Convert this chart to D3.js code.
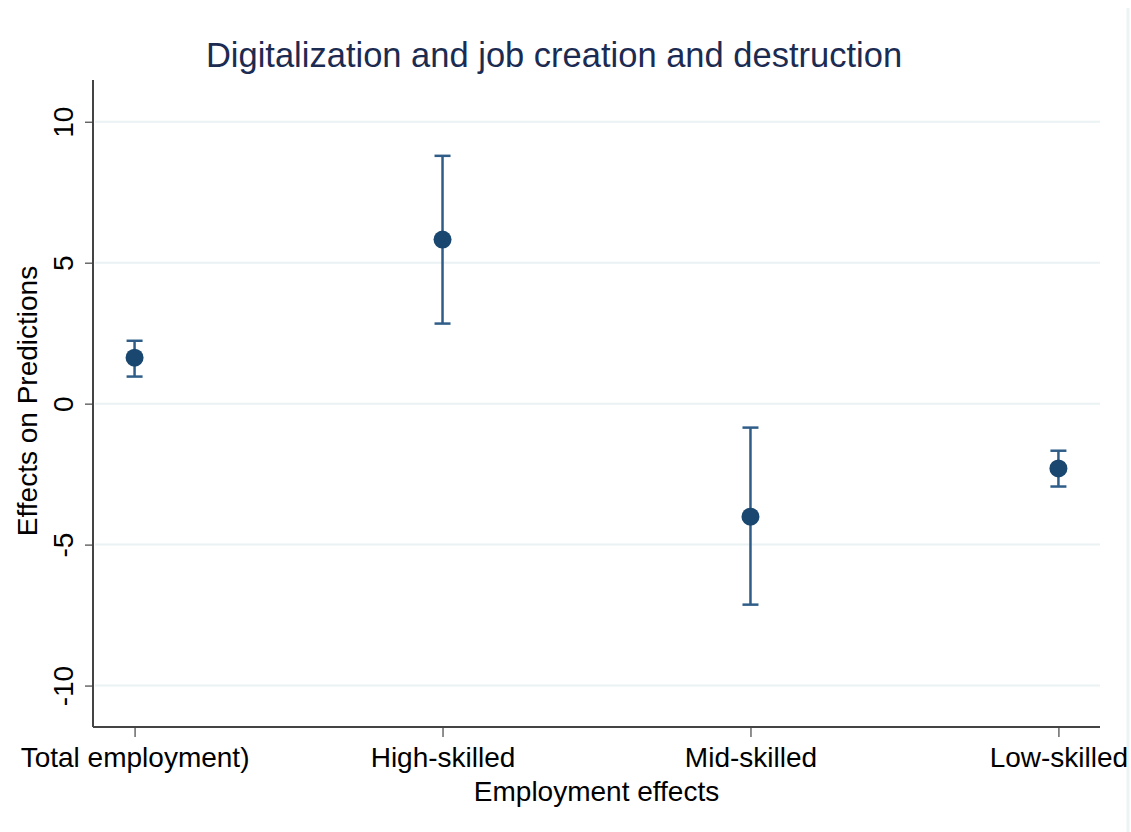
<!DOCTYPE html>
<html>
<head>
<meta charset="utf-8">
<script src="https://d3js.org/d3.v7.min.js"></script>
<style>
  body { margin: 0; background: #fff; }
  svg { display: block; }
  text { font-family: "Liberation Sans", Arial, Helvetica, sans-serif; }
</style>
</head>
<body>
<div id="chart"></div>
<script>
  // Data
  var categories = ["Total employment)", "High-skilled", "Mid-skilled", "Low-skilled"];
  var estimates = [1.63, 5.82, -4.01, -2.30];
  var upper = [2.23, 8.79, -0.85, -1.67];
  var lower = [0.96, 2.84, -7.13, -2.94];
  var yTicks = [-10, -5, 0, 5, 10];

  var W = 1131, H = 832;
  var margin = { top: 80, right: 31, bottom: 105, left: 93 };
  var width = W - margin.left - margin.right;
  var height = H - margin.top - margin.bottom;

  var navy = "#1a476f";

  var svg = d3.select("#chart")
    .append("svg")
    .attr("width", W)
    .attr("height", H);

  // faint border on the right edge of the graph region
  svg.append("line")
    .attr("x1", 1128).attr("x2", 1128)
    .attr("y1", 8).attr("y2", H)
    .attr("stroke", "#edf3f5")
    .attr("stroke-width", 3);

  var g = svg.append("g")
    .attr("transform", "translate(" + margin.left + "," + margin.top + ")");

  // Scales
  var xScale = d3.scalePoint()
    .domain(categories)
    .range([0, width])
    .padding(0.135);

  var yScale = d3.scaleLinear()
    .domain([-11.47, 11.48])
    .range([height, 0]);

  // Gridlines
  g.selectAll(".grid")
    .data(yTicks)
    .enter().append("line")
    .attr("x1", 2).attr("x2", width)
    .attr("y1", function(d) { return yScale(d); })
    .attr("y2", function(d) { return yScale(d); })
    .attr("stroke", "#eaf2f3")
    .attr("stroke-width", 2);

  // Axes
  var yAxis = g.append("g")
    .call(d3.axisLeft(yScale).tickValues(yTicks).tickSize(8).tickPadding(10)
      .tickFormat(function(d) { return String(d); }));
  yAxis.select(".domain").attr("stroke", "#444").attr("stroke-width", 2).attr("d", "M0,0V" + height);
  yAxis.selectAll(".tick line").attr("stroke", "#444").attr("stroke-width", 1.2);
  yAxis.selectAll(".tick text")
    .attr("font-size", "28px")
    .attr("font-family", "Liberation Sans, Arial, sans-serif")
    .attr("fill", "#000")
    .attr("transform", "rotate(-90)")
    .attr("x", 0)
    .attr("y", -20)
    .attr("dy", "0")
    .style("text-anchor", "middle");

  var xAxis = g.append("g")
    .attr("transform", "translate(0," + height + ")")
    .call(d3.axisBottom(xScale).tickSize(10).tickPadding(10));
  xAxis.select(".domain").attr("stroke", "#444").attr("stroke-width", 2).attr("d", "M0,0H" + width);
  xAxis.selectAll(".tick line").attr("stroke", "#444").attr("stroke-width", 1.2);
  xAxis.selectAll(".tick text")
    .attr("font-size", "28px")
    .attr("font-family", "Liberation Sans, Arial, sans-serif")
    .attr("fill", "#000");

  // Error bars
  var capW = 8;
  categories.forEach(function(c, i) {
    var x = xScale(c);
    g.append("line")
      .attr("x1", x).attr("x2", x)
      .attr("y1", yScale(upper[i])).attr("y2", yScale(lower[i]))
      .attr("stroke", "#2f5d88").attr("stroke-width", 2.5);
    [upper[i], lower[i]].forEach(function(v) {
      g.append("line")
        .attr("x1", x - capW).attr("x2", x + capW)
        .attr("y1", yScale(v)).attr("y2", yScale(v))
        .attr("stroke", "#2f5d88").attr("stroke-width", 2.5);
    });
  });

  // Points
  g.selectAll(".pt")
    .data(estimates)
    .enter().append("circle")
    .attr("cx", function(d, i) { return xScale(categories[i]); })
    .attr("cy", function(d) { return yScale(d); })
    .attr("r", 9)
    .attr("fill", navy);

  // Title
  svg.append("text")
    .attr("x", 554)
    .attr("y", 67)
    .attr("text-anchor", "middle")
    .attr("font-size", "34.5px")
    .attr("fill", "#1c2b52")
    .text("Digitalization and job creation and destruction");

  // Axis titles
  svg.append("text")
    .attr("x", margin.left + width / 2)
    .attr("y", 801)
    .attr("text-anchor", "middle")
    .attr("font-size", "28px")
    .attr("fill", "#000")
    .text("Employment effects");

  svg.append("text")
    .attr("transform", "rotate(-90)")
    .attr("x", -401)
    .attr("y", 37)
    .attr("text-anchor", "middle")
    .attr("font-size", "28px")
    .attr("fill", "#000")
    .text("Effects on Predictions");
</script>
</body>
</html>
